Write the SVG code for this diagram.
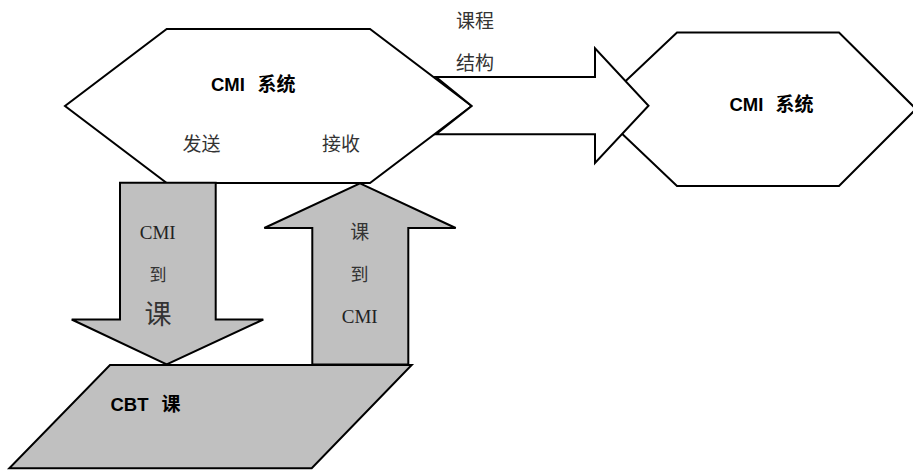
<svg xmlns="http://www.w3.org/2000/svg" width="913" height="472" viewBox="0 0 913 472">
  <style>
    .shape { stroke: #000; stroke-width: 2; stroke-linejoin: miter; }
    .white { fill: #fff; }
    .gray { fill: #c0c0c0; }
    .bold { font-family: "Liberation Sans", Arial, "Noto Sans CJK SC", sans-serif; font-weight: bold; font-size: 18.5px; fill: #000; }
    .cjk { font-family: "Noto Sans CJK SC", sans-serif; font-size: 19px; fill: #333; }
    .serif { font-family: "Liberation Serif", "Times New Roman", "Noto Sans CJK SC", serif; font-size: 19px; fill: #222; }
  </style>
  <rect x="0" y="0" width="913" height="472" fill="#fff"/>

  <g id="node-cmi-left">
    <polygon class="shape white" points="166.7,29 370,29 471.7,106 370,183 166.7,183 65,106"/>
    <text class="bold" x="211" y="91">CMI</text>
    <text class="bold" x="257.5" y="91" style="font-family:'Noto Sans CJK SC',sans-serif;font-size:19px">系统</text>
    <text class="cjk" x="182.5" y="151">发送</text>
    <text class="cjk" x="322" y="151">接收</text>
  </g>

  <g id="node-cmi-right">
    <polygon class="shape white" points="677,32.5 839,32.5 916,109 839,186 677,186 596,109"/>
    <text class="bold" x="729.5" y="111">CMI</text>
    <text class="bold" x="775.5" y="111" style="font-family:'Noto Sans CJK SC',sans-serif;font-size:19px">系统</text>
  </g>

  <g id="node-cbt">
    <polygon class="shape gray" points="110,365 411.7,365 311.7,468.3 9.3,468.3"/>
    <text class="bold" x="110.5" y="411">CBT</text>
    <text class="bold" x="161.5" y="411" style="font-family:'Noto Sans CJK SC',sans-serif;font-size:19px">课</text>
  </g>

  <g id="connectors">
    <g id="arrow-structure">
      <polygon class="shape white" points="436,77 595,77 595,48.3 648.5,105.8 595,163 595,134.3 436,134.3 471.7,106"/>
      <text class="cjk" x="456" y="27.5">课程</text>
      <text class="cjk" x="456" y="69.5">结构</text>
    </g>
    <g id="arrow-cmi-to-course">
      <polygon class="shape gray" points="120,182.8 215.7,182.8 215.7,319.5 263.3,319.5 166.7,364.5 71.7,319.5 120,319.5"/>
      <text class="serif" x="157.7" y="239" text-anchor="middle">CMI</text>
      <text class="cjk" x="158" y="280.5" text-anchor="middle" style="font-size:17px">到</text>
      <text class="cjk" x="158" y="324" text-anchor="middle" style="font-size:27px">课</text>
    </g>
    <g id="arrow-course-to-cmi">
      <polygon class="shape gray" points="360,183.3 455.7,228 408.3,228 408.3,364.5 312.3,364.5 312.3,228 264.3,228"/>
      <text class="cjk" x="359.7" y="239" text-anchor="middle">课</text>
      <text class="cjk" x="359.5" y="281" text-anchor="middle" style="font-size:18px">到</text>
      <text class="serif" x="359.7" y="323" text-anchor="middle">CMI</text>
    </g>
  </g>
</svg>
